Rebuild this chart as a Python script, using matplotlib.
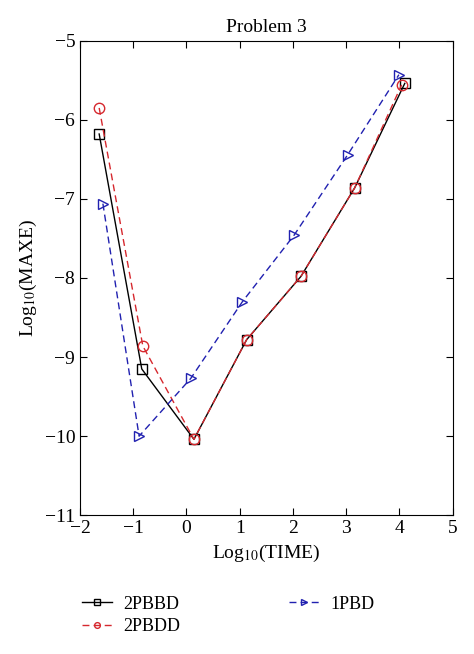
import matplotlib
matplotlib.use('Agg')
import matplotlib.pyplot as plt

plt.rcParams['font.family'] = ['Liberation Serif', 'DejaVu Serif']
plt.rcParams['mathtext.fontset'] = 'stix'

# data
x_2pbbd = [-1.64, -0.84, 0.14, 1.13, 2.15, 3.16, 4.10]
y_2pbbd = [-6.18, -9.15, -10.04, -8.78, -7.98, -6.86, -5.54]

x_2pbdd = [-1.64, -0.82, 0.14, 1.13, 2.15, 3.16, 4.04]
y_2pbdd = [-5.85, -8.86, -10.04, -8.78, -7.98, -6.86, -5.56]

x_1pbd = [-1.57, -0.89, 0.08, 1.05, 2.02, 3.03, 3.99]
y_1pbd = [-7.06, -10.0, -9.27, -8.30, -7.46, -6.44, -5.43]

xticks = [-2, -1, 0, 1, 2, 3, 4, 5]
yticks = [-11, -10, -9, -8, -7, -6, -5]

fig = plt.figure(figsize=(4.74, 6.54), dpi=100)
ax = fig.add_axes([0.1688, 0.2121, 0.7862, 0.7257])

dash = (0, (5, 3))
ax.plot(x_2pbbd, y_2pbbd, '-', color='black', lw=1.0, marker='s',
        ms=7.5, mfc='none', mec='black', label='2PBBD')
ax.plot(x_2pbdd, y_2pbdd, linestyle=dash, color='#d6282e', lw=1.0, marker='o',
        ms=7.5, mfc='none', mec='#d6282e', label='2PBDD')
ax.plot(x_1pbd, y_1pbd, linestyle=dash, color='#2121b0', lw=1.0, marker='>',
        ms=7.5, mfc='none', mec='#2121b0', label='1PBD')

ax.set_xlim(-2, 5)
ax.set_ylim(-11, -5)
ax.set_xticks(xticks)
ax.set_yticks(yticks)
ax.set_xticklabels([str(t).replace('-', '\u2212') for t in xticks])
ax.set_yticklabels([str(t).replace('-', '\u2212') for t in yticks])
ax.tick_params(direction='in', top=True, right=True, labelsize=14, length=5)

ax.set_title('Problem 3', fontsize=14)
ax.set_xlabel('Log$_{10}$(TIME)', fontsize=14)
ax.set_ylabel('Log$_{10}$(MAXE)', fontsize=14)

fig.legend(loc='upper left', bbox_to_anchor=(0.138, 0.114), ncol=2,
           frameon=False, fontsize=13, handlelength=1.7, columnspacing=6.0,
           markerscale=0.55, labelspacing=0.3, handletextpad=0.6)

fig.savefig('out.png', dpi=100)
